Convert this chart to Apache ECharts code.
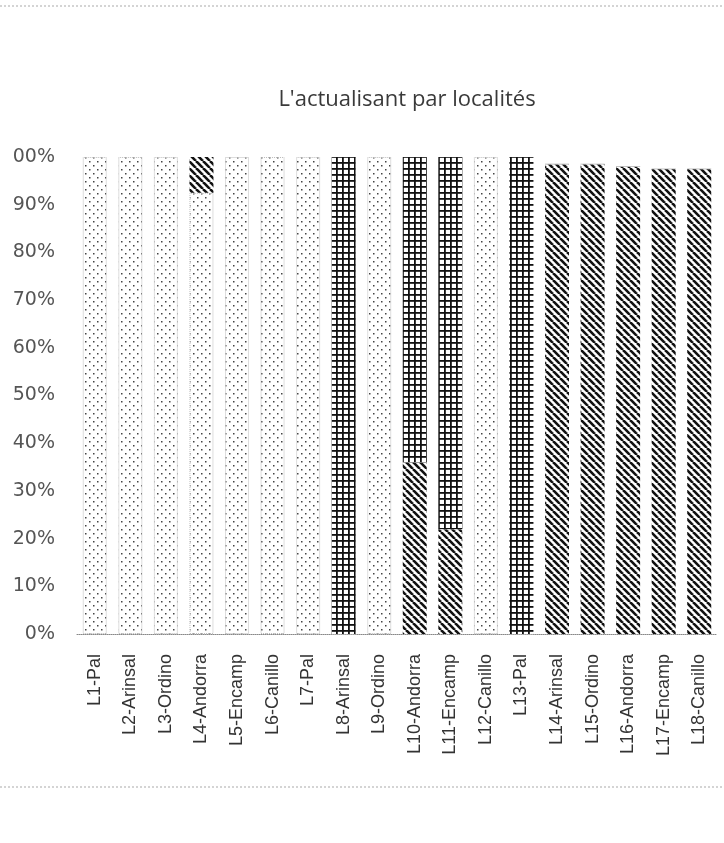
<!DOCTYPE html>
<html>
<head>
<meta charset="utf-8">
<script src="https://cdn.jsdelivr.net/npm/echarts@6/dist/echarts.min.js"></script>
<style>
html,body{margin:0;padding:0;background:#fff;}
#chart{width:724px;height:843px;}
</style>
</head>
<body>
<div id="chart"></div>
<script>
// ---- data ----
const categories = ['L1-Pal','L2-Arinsal','L3-Ordino','L4-Andorra','L5-Encamp','L6-Canillo','L7-Pal','L8-Arinsal','L9-Ordino','L10-Andorra','L11-Encamp','L12-Canillo','L13-Pal','L14-Arinsal','L15-Ordino','L16-Andorra','L17-Encamp','L18-Canillo'];
// stacked from bottom to top
const hatchBottom = [0,0,0,0,0,0,0,0,0,36,22,0,0,98.5,98.5,98,97.5,97.5];
const dotted      = [100,100,100,92.5,100,100,100,0,100,0,0,100,0,0,0,0,0,0];
const grid        = [0,0,0,0,0,0,0,100,0,64,78,0,100,0,0,0,0,0];
const hatchTop    = [0,0,0,7.5,0,0,0,0,0,0,0,0,0,0,0,0,0,0];
const yTicks = ['0%','10%','20%','30%','40%','50%','60%','70%','80%','90%','00%'];

// ---- patterns ----
function dotsPattern(){
  const c=document.createElement('canvas');c.width=8;c.height=8;
  const g=c.getContext('2d');g.fillStyle='#fff';g.fillRect(0,0,8,8);
  g.fillStyle='#444';g.fillRect(1,1,1.5,1.5);g.fillRect(5,5,1.5,1.5);
  return c;
}
function gridPattern(){
  const c=document.createElement('canvas');c.width=6;c.height=6;
  const g=c.getContext('2d');g.fillStyle='#fff';g.fillRect(0,0,6,6);
  g.fillStyle='#111';g.fillRect(0,0,6,1.8);g.fillRect(0,0,1.8,6);
  return c;
}
function hatchPattern(){
  const s=7;
  const c=document.createElement('canvas');c.width=s;c.height=s;
  const g=c.getContext('2d');g.fillStyle='#fff';g.fillRect(0,0,s,s);
  g.strokeStyle='#111';g.lineWidth=2.6;
  for(let k=-1;k<=1;k++){g.beginPath();g.moveTo(k*s,0);g.lineTo(k*s+s,s);g.stroke();}
  return c;
}
const pDots={image:dotsPattern(),repeat:'repeat'};
const pGrid={image:gridPattern(),repeat:'repeat'};
const pHatch={image:hatchPattern(),repeat:'repeat'};

const chart=echarts.init(document.getElementById('chart'),null,{renderer:'canvas'});
function bar(name,data,color,border){
  return {name:name,type:'bar',stack:'s',data:data,barWidth:24,
    itemStyle:{color:color,borderColor:border||'transparent',borderWidth:border?1:0,borderType:'dotted'},
    emphasis:{disabled:true}};
}
chart.setOption({
  animation:false,
  backgroundColor:'#fff',
  title:{text:"L'actualisant par localités",left:402,top:84,textAlign:'center',
    textStyle:{fontFamily:'Open Sans',fontSize:22,fontWeight:'normal',color:'#3a3a3a'}},
  grid:{left:77,right:7,top:157,bottom:209},
  xAxis:{type:'category',data:categories,
    axisLine:{lineStyle:{color:'#888',type:'dotted',width:1}},
    axisTick:{show:false},
    axisLabel:{interval:0,rotate:90,margin:20,fontFamily:'Liberation Sans',fontSize:18,color:'#333'}},
  yAxis:{type:'value',min:0,max:100,interval:10,
    axisLine:{show:false},axisTick:{show:false},splitLine:{show:false},
    axisLabel:{margin:22,fontFamily:'DejaVu Sans',fontSize:19,color:'#555',
      formatter:function(v){return yTicks[Math.round(v/10)];}}},
  graphic:[
    {type:'line',shape:{x1:0,y1:6,x2:724,y2:6},style:{stroke:'#aaa',lineWidth:1,lineDash:[2,2]}},
    {type:'line',shape:{x1:0,y1:787,x2:724,y2:787},style:{stroke:'#aaa',lineWidth:1,lineDash:[2,2]}}
  ],
  series:[
    bar('S1',hatchBottom,pHatch),
    bar('S2',dotted,pDots,'#bbb'),
    bar('S3',grid,pGrid),
    bar('S4',hatchTop,pHatch)
  ]
});
</script>
</body>
</html>
